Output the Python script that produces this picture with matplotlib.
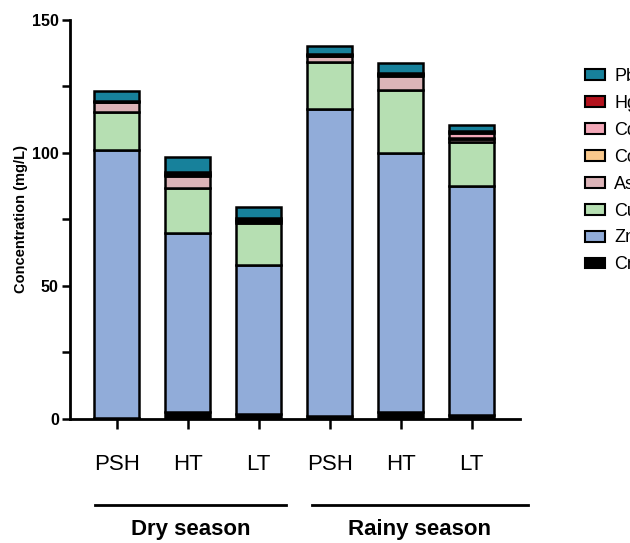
import numpy as np
import matplotlib.pyplot as plt
from matplotlib.patches import Patch

plt.rcParams['font.family'] = ['Liberation Sans', 'DejaVu Sans']

sites = ['PSH', 'HT', 'LT', 'PSH', 'HT', 'LT']
seasons = ['Dry season', 'Rainy season']

# stacked from bottom to top
metals = ['Cr', 'Zn', 'Cu', 'As', 'Co', 'Cd', 'Hg', 'Pb']
Cr = [0.5, 2.5, 2.0, 1.0, 2.5, 1.5]
Zn = [100.5, 67.5, 56.0, 115.5, 97.5, 86.0]
Cu = [14.5, 16.8, 15.5, 17.5, 23.5, 16.5]
As = [3.7, 4.6, 0.8, 2.3, 5.5, 1.2]
Co = [0.1, 0.3, 0.3, 0.2, 0.3, 0.5]
Cd = [0.1, 0.3, 0.3, 0.2, 0.3, 1.8]
Hg = [0.2, 0.9, 0.5, 0.3, 0.4, 0.6]
Pb = [3.5, 5.6, 4.4, 3.2, 3.7, 2.5]

colors = {'Cr': '#000000', 'Zn': '#91acd9', 'Cu': '#b6dfb2', 'As': '#dcb4b8',
          'Co': '#f9c88c', 'Cd': '#f3a8b8', 'Hg': '#b3121d', 'Pb': '#17819b'}

data = {'Cr': Cr, 'Zn': Zn, 'Cu': Cu, 'As': As, 'Co': Co, 'Cd': Cd, 'Hg': Hg, 'Pb': Pb}

fig = plt.figure(figsize=(6.3, 5.43), dpi=100)
ax = fig.add_axes([0.111, 0.2284, 0.714, 0.735])

x = np.arange(len(sites))
bottom = np.zeros(len(sites))
for m in metals:
    vals = np.array(data[m])
    ax.bar(x, vals, 0.64, bottom=bottom, color=colors[m], edgecolor='black', linewidth=1.8)
    bottom += vals

ax.set_xlim(-0.66, 5.68)
ax.set_ylim(0, 150)
ax.set_yticks([0, 50, 100, 150])
ax.set_yticks([25, 75, 125], minor=True)
for lab in ax.get_yticklabels():
    lab.set_fontweight('bold')
ax.tick_params(axis='y', labelsize=11.5, width=1.8, length=6, pad=2)
ax.tick_params(axis='y', which='minor', width=1.8, length=6)
ax.set_xticks(x)
ax.set_xticklabels(sites, fontsize=16)
ax.tick_params(axis='x', width=1.8, length=7, pad=18)
ax.set_ylabel('Concentration (mg/L)', fontsize=10.5, fontweight='bold', labelpad=3)

for s in ['top', 'right']:
    ax.spines[s].set_visible(False)
for s in ['left', 'bottom']:
    ax.spines[s].set_linewidth(2)

# group lines and labels
trans = ax.get_xaxis_transform()
groups = [(-0.31, 2.39), (2.75, 5.79)]
for (x0, x1), name in zip(groups, seasons):
    ax.plot([x0, x1], [-0.215, -0.215], color='black', linewidth=2, transform=trans, clip_on=False)
    ax.text((x0 + x1) / 2, -0.278, name, transform=trans, ha='center', va='center',
            fontsize=16, fontweight='bold')

handles = [Patch(facecolor=colors[m], edgecolor='black', linewidth=1.5, label=m)
           for m in metals[::-1]]
fig.legend(handles=handles, loc='upper left', bbox_to_anchor=(0.929, 0.875),
           frameon=False, fontsize=13, handlelength=1.1, handleheight=0.55,
           labelspacing=0.55, handletextpad=0.5, borderaxespad=0, borderpad=0)

plt.savefig('out.png', dpi=100)
